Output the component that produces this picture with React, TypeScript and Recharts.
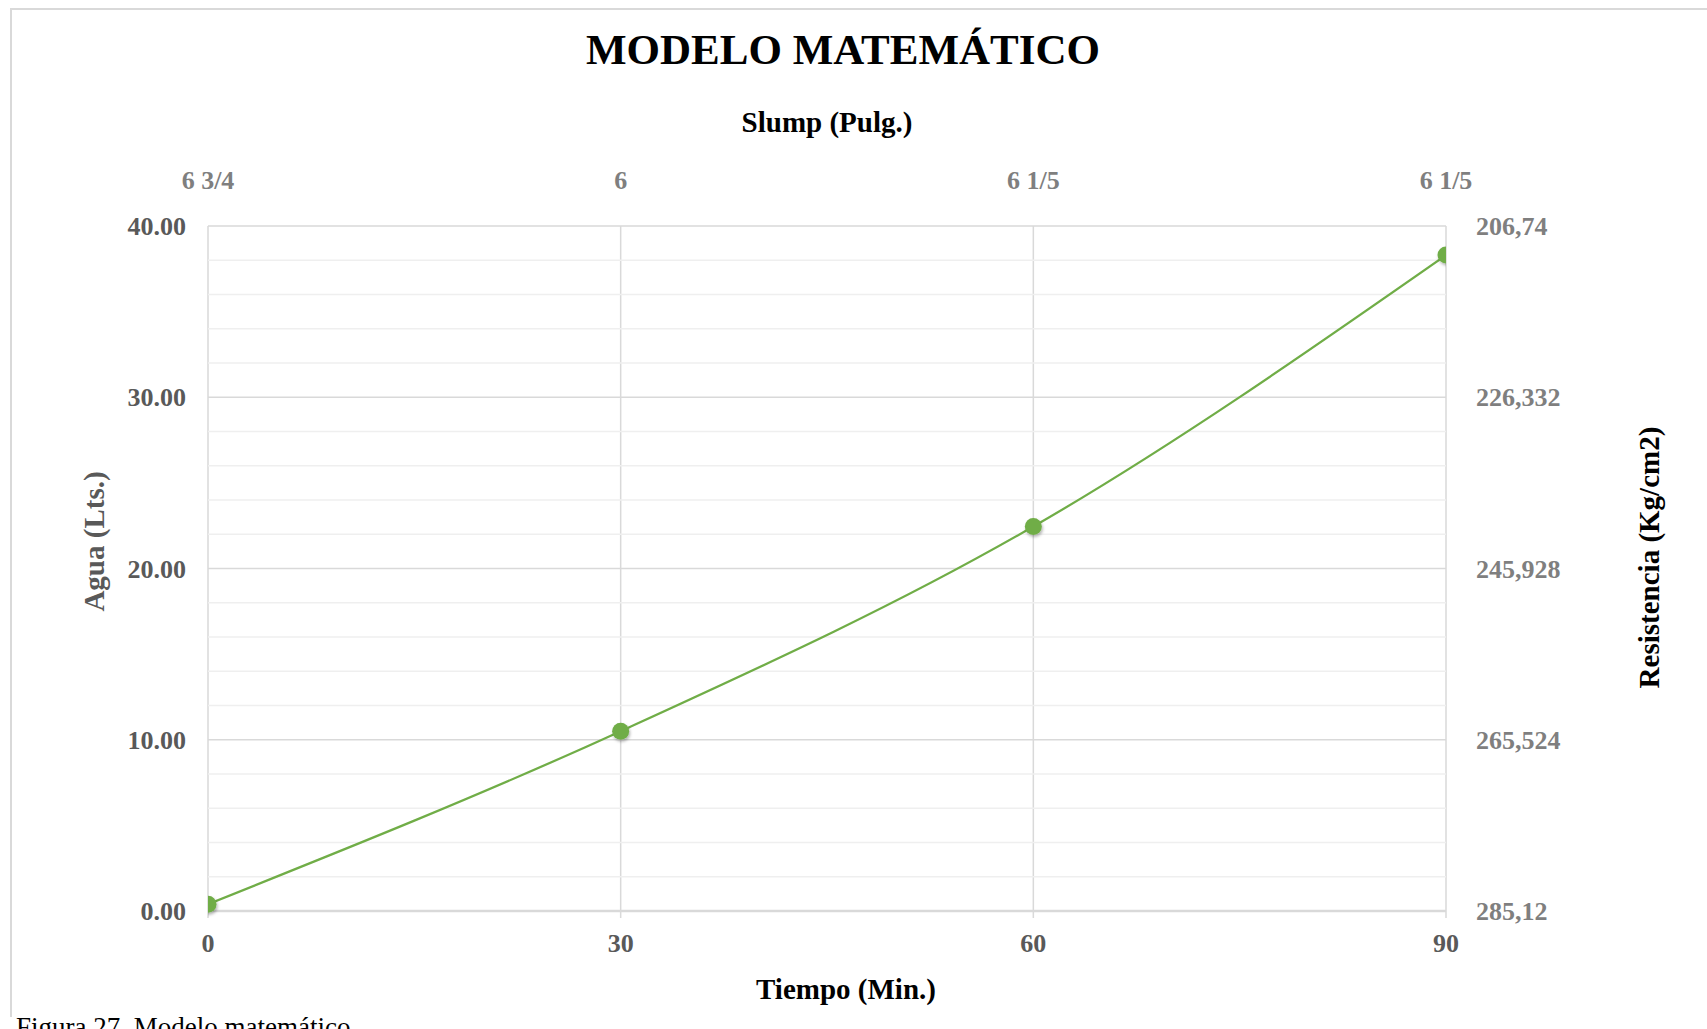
import { LineChart, Line, XAxis, YAxis, CartesianGrid, ReferenceLine } from 'recharts';

// Tiempo (Min.) vs Agua (Lts.)
const tiempo = [0, 30, 60, 90];
const agua = [0.4, 10.5, 22.45, 38.3];
// top axis labels, one per tiempo value
const slump = ['6 3/4', '6', '6 1/5', '6 1/5'];
const aguaTicks = [0, 10, 20, 30, 40];
const aguaMinor = [2, 4, 6, 8, 12, 14, 16, 18, 22, 24, 26, 28, 32, 34, 36, 38];
const resistenciaTicks = [206.74, 226.332, 245.928, 265.524, 285.12];

const data = tiempo.map((t, i) => ({ tiempo: t, agua: agua[i] }));

const FONT = '"Liberation Serif", "Times New Roman", serif';
const GREEN = '#70AD47';

const tickDark = { fill: '#595959', fontSize: 26, fontWeight: 'bold', fontFamily: FONT };
const tickLight = { fill: '#7f7f7f', fontSize: 26, fontWeight: 'bold', fontFamily: FONT };
const titleStyle = { fontSize: 29, fontWeight: 'bold', fontFamily: FONT };

export default function App() {
  return (
    <div style={{
      position: 'absolute',
      left: 0,
      top: 0,
      width: 1707,
      height: 1029,
      background: '#fff',
      overflow: 'hidden',
      fontFamily: FONT
    }}>
      <svg width={0} height={0} style={{ position: 'absolute' }}>
        <defs>
          <filter id="dotShadow" x="-50%" y="-50%" width="200%" height="200%">
            <feDropShadow dx="1" dy="2" stdDeviation="1.5" floodColor="#000" floodOpacity="0.3" />
          </filter>
        </defs>
      </svg>

      {/* chart area border */}
      <div style={{
        position: 'absolute', left: 10, top: 8, width: 1720, height: 1007,
        borderLeft: '2px solid #d9d9d9', borderTop: '2px solid #d9d9d9'
      }} />

      <div style={{ position: 'absolute', left: 0, top: 0 }}>
        <LineChart width={1707} height={1029} data={data} margin={{ top: 0, right: 0, bottom: 0, left: 0 }}>
          <CartesianGrid xAxisId="bottom" yAxisId="left" stroke="#d9d9d9" strokeWidth={1.5} />
          {aguaMinor.map((v) => (
            <ReferenceLine key={v} xAxisId="bottom" yAxisId="left" y={v} stroke="#efefef" strokeWidth={1.5} />
          ))}
          <XAxis
            xAxisId="bottom"
            dataKey="tiempo"
            type="number"
            domain={[0, 90]}
            ticks={tiempo}
            allowDataOverflow
            height={118}
            tick={tickDark}
            tickSize={7}
            tickMargin={16}
            tickLine={{ stroke: '#d9d9d9', strokeWidth: 1.5 }}
            axisLine={{ stroke: '#d9d9d9', strokeWidth: 2.5 }}
            label={{ value: 'Tiempo (Min.)', position: 'center', dx: 19, dy: 19, fill: '#000', ...titleStyle }}
          />
          <XAxis
            xAxisId="top"
            orientation="top"
            dataKey="tiempo"
            type="number"
            domain={[0, 90]}
            ticks={tiempo}
            allowDataOverflow
            height={226}
            axisLine={false}
            tickLine={false}
            tickSize={0}
            tickMargin={37}
            tickFormatter={(v: number) => slump[tiempo.indexOf(v)]}
            tick={tickLight}
            label={{ value: 'Slump (Pulg.)', position: 'center', dy: 9, fill: '#000', ...titleStyle }}
          />
          <YAxis
            yAxisId="left"
            type="number"
            domain={[0, 40]}
            ticks={aguaTicks}
            width={208}
            axisLine={false}
            tickLine={false}
            tickSize={0}
            tickMargin={22}
            tickFormatter={(v: number) => v.toFixed(2)}
            tick={tickDark}
            label={{ value: 'Agua (Lts.)', angle: -90, position: 'center', dx: -10, dy: -27, fill: '#595959', ...titleStyle }}
          />
          <YAxis
            yAxisId="right"
            orientation="right"
            type="number"
            domain={[206.74, 285.12]}
            reversed
            allowDataOverflow
            ticks={resistenciaTicks}
            width={261}
            axisLine={false}
            tickLine={false}
            tickSize={0}
            tickMargin={30}
            tickFormatter={(v: number) => String(v).replace('.', ',')}
            tick={tickLight}
            label={{ value: 'Resistencia (Kg/cm2)', angle: -90, position: 'center', dx: 72, dy: -11, fill: '#000', ...titleStyle }}
          />
          <Line
            xAxisId="bottom"
            yAxisId="left"
            type="monotone"
            dataKey="agua"
            stroke={GREEN}
            strokeWidth={2.25}
            dot={{ r: 8.5, fill: GREEN, stroke: GREEN, strokeWidth: 0, filter: 'url(#dotShadow)' }}
            activeDot={false}
            isAnimationActive={false}
          />
        </LineChart>
      </div>

      <div style={{
        position: 'absolute', left: 0, top: 28, width: 1686, textAlign: 'center',
        fontSize: 43, lineHeight: '43px', fontWeight: 'bold', color: '#000'
      }}>
        MODELO MATEMÁTICO
      </div>

      <div style={{
        position: 'absolute', left: 16, top: 1014, fontSize: 27, lineHeight: '27px', color: '#000', whiteSpace: 'nowrap'
      }}>
        Figura 27. Modelo matemático
      </div>
    </div>
  );
}
